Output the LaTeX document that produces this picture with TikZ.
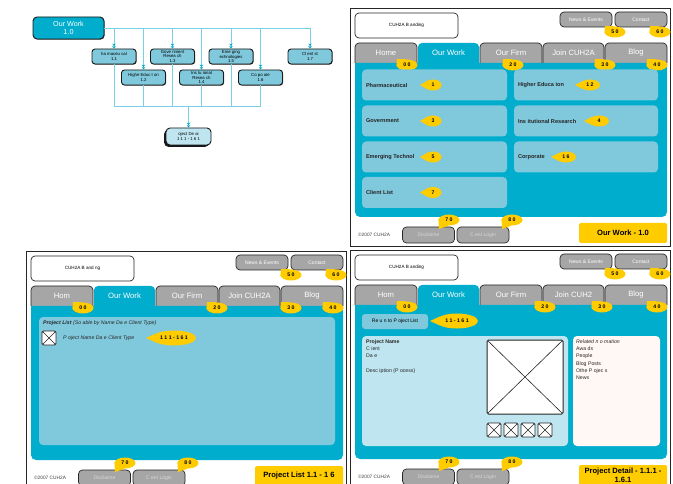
\documentclass[tikz,border=0pt]{standalone}
\usepackage{fontspec}
\setmainfont{Liberation Sans}
\usetikzlibrary{shapes.geometric,shadows,arrows.meta}

\definecolor{cuteal}{RGB}{0,173,204}
\definecolor{cucard}{RGB}{128,200,220}
\definecolor{cupale}{RGB}{190,229,240}
\definecolor{cucream}{RGB}{255,248,245}
\definecolor{cugray}{RGB}{166,166,166}
\definecolor{cuyel}{RGB}{255,204,0}
\definecolor{culine}{RGB}{120,208,228}

\tikzset{
  boxbase/.style={rectangle, draw=black!90, line width=0.9pt, rounded corners=3pt,
    fill=cucard, minimum width=44pt, minimum height=15pt, inner sep=0pt,
    align=center, font=\fontsize{4.3}{4.7}\selectfont},
  treebox/.style={boxbase,
    drop shadow={shadow xshift=0.6pt, shadow yshift=-0.6pt, fill=black, opacity=0.7}},
  rootbox/.style={treebox, fill=cuteal, minimum width=71pt, minimum height=22pt,
    rounded corners=4pt, text=white, font=\fontsize{7.2}{8.4}\selectfont},
  pdbox/.style={boxbase, fill=cupale, minimum width=45pt, minimum height=17pt,
    rounded corners=4pt,
    drop shadow={shadow xshift=-1.8pt, shadow yshift=-1.8pt, fill=black, opacity=0.9}},
  treeline/.style={draw=culine, line width=0.8pt},
  treearrow/.style={treeline,
    -{Stealth[length=2.5pt,width=3.5pt,color=cuteal]Stealth[length=2.5pt,width=3.5pt,color=cuteal]}},
  frame/.style={draw=black!85, line width=0.9pt},
  brandbox/.style={rectangle, draw=black!85, line width=0.7pt, rounded corners=4pt,
    fill=white, minimum width=103pt, minimum height=25pt, inner sep=0pt,
    font=\fontsize{4.6}{5}\selectfont},
  navbtn/.style={rectangle, draw=black!85, line width=0.7pt, rounded corners=4pt,
    fill=cugray, minimum width=52pt, minimum height=15pt, inner sep=0pt,
    text=white, font=\fontsize{5}{6}\selectfont},
  footbtn/.style={navbtn, minimum height=16pt, text=white!85!black},
  tabshape/.style={fill=cugray, draw=black!85, line width=0.7pt, rounded corners=4pt},
  activetab/.style={fill=cuteal, rounded corners=4pt},
  tablabel/.style={inner sep=0pt, text=white, font=\fontsize{7.7}{9}\selectfont},
  titlebox/.style={rectangle, fill=cuyel, rounded corners=1.5pt, minimum width=88pt,
    minimum height=20pt, inner sep=1pt, align=center,
    font=\fontsize{7.6}{8.6}\selectfont\bfseries},
  card/.style={rectangle, fill=cucard, rounded corners=4pt, inner sep=0pt},
  cardlabel/.style={anchor=west, inner sep=0pt, text=black!85,
    font=\fontsize{5.6}{6}\selectfont\bfseries},
  bubble/.style={ellipse, fill=cuyel, inner sep=0pt, minimum width=21pt,
    minimum height=11pt, font=\fontsize{5.2}{5.2}\selectfont\bfseries},
  foottext/.style={anchor=west, inner sep=0pt, text=black!75,
    font=\fontsize{4.8}{5}\selectfont},
  smalltext/.style={inner sep=0pt, align=left, text=black!85,
    font=\fontsize{5.2}{7.2}\selectfont},
  xbox/.style={rectangle, draw=black!85, line width=0.8pt, fill=white,
    rounded corners=1.5pt, minimum size=14pt, inner sep=0pt,
    path picture={\draw[black!85, line width=0.6pt]
      (path picture bounding box.north west) -- (path picture bounding box.south east)
      (path picture bounding box.south west) -- (path picture bounding box.north east);}}
}

\begin{document}
\begin{tikzpicture}[x=1pt,y=-1pt]
  \useasboundingbox (0,0) rectangle (673,484);
  \clip (0,0) rectangle (673,484);

  % site map of Our Work
  \node[rootbox] (root) at (68.5,28) {Our Work\\1.0};
  \node[treebox] (c11) at (114,56.5) {ha maceu cal\\1.1};
  \node[treebox] (c12) at (143.5,77.5) {Highe  Educ t on\\1.2};
  \node[treebox] (c13) at (172.5,56.5) {Gove nment\\Resea ch\\1.3};
  \node[treebox] (c14) at (201.5,77.5) {Ins tu ional\\Resea ch\\1.4};
  \node[treebox] (c15) at (231,56.5) {Eme ging\\ echnologies\\1.5};
  \node[treebox] (c16) at (260.5,77.5) {Co  po ate\\1.6};
  \node[treebox] (c17) at (310,56.5) {Cl ent  st\\1.7};
  \node[pdbox] (pd) at (188.5,136.5) {oject De ai\\1 1 1 - 1 6 1};
  \coordinate (merge) at (188.5,106);

  \foreach \c in {c11,c12,c13,c14,c15,c16,c17}
    \draw[treearrow] (root.east) -| (\c.north);
  \foreach \c in {c11,c12,c13,c14,c15,c16}
    \draw[treeline] (\c.south) |- (merge);
  \draw[treearrow] (merge) -- (pd.north);

  % the three page mock-ups
  \foreach \p/\dx/\dy/\home/\join/\brand/\fx/\jx/\ttl in {
      a/0/0/Home/{Join CUH2A}/{CUH2A B anding}/513/605/{Our Work - 1.0},
      b/-324/243/Hom/{Join CUH2A}/{CUH2A B and ng}/541/615/{Project List 1.1 - 1 6},
      c/0/242/Hom/{Join CUH2}/{CUH2A B anding}/545/602/{Project Detail - 1.1.1 -\\1.6.1}}
  {
    \begin{scope}[shift={(\dx,\dy)}]
      \draw[frame] (350,8) rectangle (670,246);
      \node[brandbox] (\p-brand) at (406.5,25.5) {\brand};
      \node[navbtn] (\p-news) at (586,19.5) {News \& Events};
      \node[navbtn] (\p-contact) at (641,19.5) {Contact};

      % tabs
      \filldraw[tabshape] (355,63) -- (355,43) -- (417,43) -- (417,63);
      \filldraw[tabshape] (480,63) -- (480,43) -- (542,43) -- (542,63);
      \filldraw[tabshape] (543,63) -- (543,43) -- (604,43) -- (604,63);
      \filldraw[tabshape] (605,63) -- (605,43) -- (667,43) -- (667,63);
      \fill[activetab] (418,64) -- (418,43) -- (479,43) -- (479,64);
      \fill[cuteal, rounded corners=5pt] (355,63) -- (355,217) -- (667,217) -- (667,63);
      \node[tablabel] (\p-home) at (386,53) {\home};
      \node[tablabel] (\p-work) at (448.5,53) {Our Work};
      \node[tablabel] (\p-firm) at (511,53) {Our Firm};
      \node[tablabel] (\p-join) at (573.5,53) {\join};
      \node[tablabel] (\p-blog) at (636,53) {Blog};

      % footer
      \node[foottext] (\p-copy) at (358,235) {©2007 CUH2A};
      \node[footbtn] (\p-discl) at (428.5,235) {Disclaime};
      \node[footbtn] (\p-login) at (483,235) {C ent Login};
      \node[titlebox] (\p-title) at (623,233) {\ttl};

      % numbered callouts
      \foreach \lab/\bx/\by [count=\i] in {{5 0}/615/32, {6 0}/660/32,
          {0 0}/407/65, {2 0}/\fx/65, {3 0}/\jx/65, {4 0}/657/65} {
        \node[bubble] (\p-t\i) at (\bx,\by) {\lab};
        \fill[cuyel] (\p-t\i.95) -- ([shift={(-10,-6)}]\p-t\i.center) -- (\p-t\i.185) -- cycle;
      }
      \foreach \lab/\bx [count=\i] in {{7 0}/449, {8 0}/512} {
        \node[bubble] (\p-f\i) at (\bx,220) {\lab};
        \fill[cuyel] (\p-f\i.175) -- ([shift={(-10,9)}]\p-f\i.center) -- (\p-f\i.265) -- cycle;
      }
    \end{scope}
  }

  % Our Work page: category cards
  \foreach \lab/\y/\bub [count=\i] in {Pharmaceutical/85/1, Government/121/3,
      {Emerging Technol}/157/5, {Client List}/192.5/7} {
    \node[card, minimum width=145pt, minimum height=31pt] (a-left\i) at (434.5,\y) {};
    \node[cardlabel] (a-llab\i) at ([xshift=4pt]a-left\i.west) {\lab};
    \node[bubble, minimum width=17pt] (a-lnum\i) at (433,\y) {\bub};
    \fill[cuyel] (a-lnum\i.140) -- ([shift={(-13,0)}]a-lnum\i.center) -- (a-lnum\i.220) -- cycle;
  }
  \foreach \lab/\y/\bx/\bub [count=\i] in {{Higher Educa ion}/85/590/{1 2},
      {Ins itutional Research}/121/599/4, Corporate/157/566/{1 6}} {
    \node[card, minimum width=144pt, minimum height=31pt] (a-right\i) at (586,\y) {};
    \node[cardlabel] (a-rlab\i) at ([xshift=4pt]a-right\i.west) {\lab};
    \node[bubble, minimum width=20pt] (a-rnum\i) at (\bx,\y) {\bub};
    \fill[cuyel] (a-rnum\i.150) -- ([shift={(-15,0)}]a-rnum\i.center) -- (a-rnum\i.210) -- cycle;
  }

  % Project List page
  \node[card, minimum width=296pt, minimum height=128pt] (b-list) at (187,381) {};
  \node[smalltext, anchor=west] (b-head) at (43,323)
    {\textbf{\textit{Project List}} \textit{(So  able by Name  Da e  Client  Type)}};
  \node[xbox] (b-icon) at (49,338) {};
  \node[smalltext, anchor=west] (b-row) at (63,338) {\textit{P oject Name  Da e  Client  Type}};
  \node[bubble, minimum width=44pt, minimum height=15pt] (b-num) at (174,338) {1 1 1 - 1 6 1};
  \fill[cuyel] (b-num.166) -- ([shift={(-28,0)}]b-num.center) -- (b-num.194) -- cycle;

  % Project Detail page
  \node[card, minimum width=66pt, minimum height=15pt, rounded corners=3pt,
    font=\fontsize{5}{6}\selectfont] (c-back) at (395,321.5) {Re u n to P oject List};
  \node[bubble, minimum width=42pt, minimum height=15pt] (c-num) at (457,321) {1 1 - 1 6 1};
  \fill[cuyel] (c-num.166) -- ([shift={(-27,0)}]c-num.center) -- (c-num.194) -- cycle;
  \node[card, fill=cupale, minimum width=206pt, minimum height=110pt] (c-main) at (465,391) {};
  \node[card, fill=cucream, minimum width=87pt, minimum height=110pt] (c-side) at (616.5,391) {};
  \node[smalltext, anchor=north west] (c-info) at (366,339.5)
    {\textbf{Project Name}\\C ient\\Da e\\[7.5pt]Desc iption (P ocess)};
  \node[xbox, minimum width=76pt, minimum height=74pt, line width=1pt] (c-image) at (525,377) {};
  \foreach \x [count=\i] in {494,511,528,545}
    \node[xbox] (c-thumb\i) at (\x,430) {};
  \node[smalltext, anchor=north west] (c-related) at (576,339.5)
    {\textit{Related  n o mation}\\Awa ds\\People\\Blog Posts\\Othe  P ojec s\\News};
\end{tikzpicture}
\end{document}
